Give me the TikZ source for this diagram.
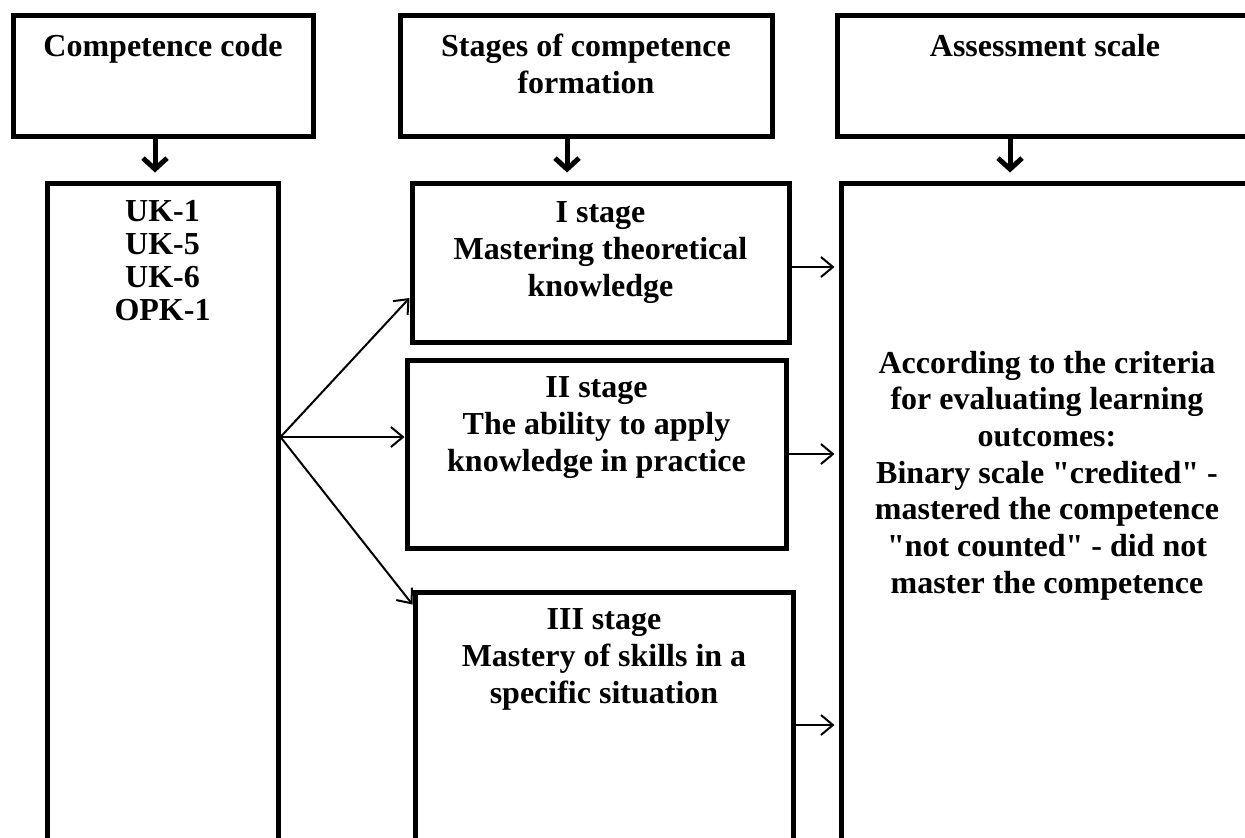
\documentclass[tikz,border=0pt]{standalone}
\usepackage{fontspec}
\setmainfont{Liberation Serif}[Ligatures=TeXOff]
\usetikzlibrary{arrows.meta}

\begin{document}
\begin{tikzpicture}[x=0.5pt,y=-0.5pt,
			box/.style={draw,line width=2.5pt,inner sep=0pt},
			txt/.style={anchor=north,align=center,inner sep=0pt,font=\bfseries\fontsize{16}{18.35}\selectfont},
			down/.style={line width=2.5pt,-{Straight Barb[length=5.5pt,width=12pt]},shorten >=4pt},
			link/.style={line width=1pt,-{Straight Barb[length=6pt,width=10pt]}}]
			\useasboundingbox (0,0) rectangle (1245,837);
			\clip (0,0) rectangle (1245,837);
			% headers
			\node [box,minimum width=150pt,minimum height=60.5pt]	(code)		at (163,75.5)		{};
				\node [txt] (codeTxt) at ([yshift=-10.5pt]code.north) {Competence code};
			\node [box,minimum width=186pt,minimum height=60.5pt]	(stages)	at (586,75.5)		{};
				\node [txt] (stagesTxt) at ([yshift=-10.5pt]stages.north) {Stages of competence\\formation};
			\node [box,minimum width=208pt,minimum height=60.5pt]	(scale)		at (1045,75.5)		{};
				\node [txt] (scaleTxt) at ([yshift=-10.5pt]scale.north) {Assessment scale};
			% columns
			\node [box,minimum width=115.5pt,minimum height=358.5pt]	(codes)		at (162.5,541.5)	{};
				\node [txt,font=\bfseries\fontsize{16}{16.5}\selectfont] (codesTxt) at ([yshift=-9.5pt]codes.north) {UK-1\\UK-5\\UK-6\\OPK-1};
			\node [box,minimum width=188.5pt,minimum height=79.5pt]	(stageI)	at (600.5,262.5)	{};
				\node [txt] (stageITxt) at ([yshift=-10.5pt]stageI.north) {I stage\\Mastering theoretical\\knowledge};
			\node [box,minimum width=189.5pt,minimum height=94pt]	(stageII)	at (596.5,454)		{};
				\node [txt] (stageIITxt) at ([yshift=-9.5pt]stageII.north) {II stage\\The ability to apply\\knowledge in practice};
			\node [box,minimum width=189pt,minimum height=154pt]	(stageIII)	at (604,746)		{};
				\node [txt] (stageIIITxt) at ([yshift=-9.5pt]stageIII.north) {III stage\\Mastery of skills in a\\specific situation};
			\node [box,minimum width=206pt,minimum height=358.5pt]	(criteria)	at (1047,541.5)		{};
				\node [txt] (criteriaTxt) at ([yshift=-85pt]criteria.north) {According to the criteria\\for evaluating learning\\outcomes:\\Binary scale "credited" -\\mastered the competence\\"not counted" - did not\\master the competence};
			% arrows
			\draw [down] ([xshift=-4pt]code.south) -- ([xshift=-4pt]code.south |- codes.north);
			\draw [down] ([xshift=-9.5pt]stages.south) -- ([xshift=-9.5pt]stages.south |- stageI.north);
			\draw [down] ([xshift=-17.5pt]scale.south) -- ([xshift=-17.5pt]scale.south |- criteria.north);
			\coordinate (fan) at ([yshift=52.25pt]codes.east);
			\draw [link] (fan) -- ([yshift=-17.75pt]stageI.west);
			\draw [link] (fan) -- ([yshift=8.5pt]stageII.west);
			\draw [link] (fan) -- ([yshift=-7.5pt]stageIII.north west);
			\draw [link,shorten >=2pt] ([yshift=-2.25pt]stageI.east) -- ([yshift=-2.25pt]stageI.east -| criteria.west);
			\draw [link,shorten >=2pt] (stageII.east) -- (stageII.east -| criteria.west);
			\draw [link,shorten >=2pt] ([yshift=10.5pt]stageIII.east) -- ([yshift=10.5pt]stageIII.east -| criteria.west);
		\end{tikzpicture}
\end{document}
